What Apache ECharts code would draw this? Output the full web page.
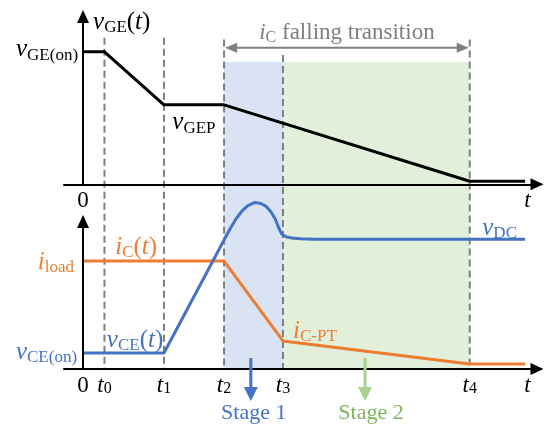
<!DOCTYPE html>
<html>
<head>
<meta charset="utf-8">
<script src="https://cdn.jsdelivr.net/npm/echarts@6/dist/echarts.min.js"></script>
<style>
  html, body { margin: 0; padding: 0; background: #ffffff; }
  #chart { width: 548px; height: 426px; }
</style>
</head>
<body>
<div id="chart"></div>
<script>
// Switching instants of the turn-off sequence (arbitrary time units)
const tInstants = [0.36, 1.36, 2.37, 3.36, 6.5];
const tickNames = ['0', '1', '2', '3', '4'];
const tAxisLabelPos = 7.47;

// Gate-emitter voltage vGE(t)
const vgeTime  = [0, 0.36, 1.36, 2.37, 6.5, 7.43];
const vgeValue = [15, 15, 9, 9, 0.35, 0.35];

// Collector-emitter voltage vCE(t), normalised
const vceTime  = [0, 1.36, 2.37, 2.47, 2.57, 2.67, 2.77, 2.89, 2.99, 3.08, 3.16, 3.23, 3.29, 3.34, 3.41, 3.51, 3.65, 3.90, 7.43];
const vceValue = [10.8, 10.8, 87.5, 94.9, 101.7, 107.1, 110.8, 112.9, 112.2, 110.2, 106.4, 101.7, 95.6, 91.5, 89.6, 88.8, 88.3, 88.0, 87.9];

// Collector current iC(t), normalised
const icTime  = [0, 2.37, 3.36, 6.5, 7.43];
const icValue = [73.2, 73.2, 19.0, 3.4, 3.4];

// Named levels on the vertical axes
const vgeOn = 15;
const vceOn = 10.8;
const iLoad = 73.2;

const SERIF = "'Liberation Serif','Times New Roman',serif";
const BLUE = '#4472C4';
const ORANGE = '#ED7D31';
const GRAY = '#7F7F7F';
const GREEN_ARROW = '#A9D18E';
const GREEN_TEXT = '#7DB55A';

const zip = (xs, ys) => xs.map((x, i) => [x, ys[i]]);

// rich-text styles for axis labels (ECharts text style keys)
function axisRich(color, big, small, shift) {
  return {
    v: { color, fontFamily: SERIF, fontSize: big, fontStyle: 'italic', lineHeight: 30 },
    s: { color, fontFamily: SERIF, fontSize: small, lineHeight: 30, padding: [shift, 0, 0, 0] },
    r: { color, fontFamily: SERIF, fontSize: big, lineHeight: 30 }
  };
}

const arrowLine = {
  show: true,
  onZero: true,
  symbol: ['none', 'triangle'],
  symbolSize: [12, 13],
  lineStyle: { color: '#000', width: 2 }
};

const xAxisCommon = {
  type: 'value', min: -0.32, max: 7.63, z: 5,
  axisLine: arrowLine,
  axisTick: { show: false },
  splitLine: { show: false }
};
const yAxisCommon = {
  type: 'value', min: 0, z: 5,
  axisLine: arrowLine,
  axisTick: { show: false },
  axisLabel: { show: false },
  splitLine: { show: false }
};

const option = {
  animation: false,
  backgroundColor: '#ffffff',
  grid: [
    { left: 64, right: 11, top: 16.5, height: 167.8, containLabel: false, outerBoundsMode: 'none' },
    { left: 64, right: 11, top: 221.5, height: 147.5, containLabel: false, outerBoundsMode: 'none' }
  ],
  xAxis: [
    Object.assign({}, xAxisCommon, {
      gridIndex: 0,
      axisLabel: {
        customValues: [0, tAxisLabelPos],
        margin: 2,
        formatter: (v) => v === 0 ? '{r|0}' : '{v|t}',
        rich: axisRich('#000', 23, 16, 6)
      }
    }),
    Object.assign({}, xAxisCommon, {
      gridIndex: 1,
      axisLabel: {
        customValues: [0].concat(tInstants, [tAxisLabelPos]),
        margin: 2,
        formatter: (v) => {
          if (v === 0) return '{r|0}';
          const k = tInstants.indexOf(v);
          return k >= 0 ? '{v|t}{s|' + tickNames[k] + '}' : '{v|t}';
        },
        rich: axisRich('#000', 23, 16, 6)
      }
    })
  ],
  yAxis: [
    Object.assign({}, yAxisCommon, { gridIndex: 0, max: 19 }),
    Object.assign({}, yAxisCommon, { gridIndex: 1, max: 100 })
  ],
  series: [
    {
      name: 'vGE', type: 'line', xAxisIndex: 0, yAxisIndex: 0,
      data: zip(vgeTime, vgeValue), showSymbol: false, clip: false, z: 3,
      lineStyle: { color: '#000', width: 3, join: 'round' }
    },
    {
      name: 'iC', type: 'line', xAxisIndex: 1, yAxisIndex: 1,
      data: zip(icTime, icValue), showSymbol: false, clip: false, z: 3,
      lineStyle: { color: ORANGE, width: 3, join: 'round' }
    },
    {
      name: 'vCE', type: 'line', xAxisIndex: 1, yAxisIndex: 1,
      data: zip(vceTime, vceValue), showSymbol: false, clip: false, z: 4,
      lineStyle: { color: BLUE, width: 3, join: 'round' }
    }
  ]
};

const chart = echarts.init(document.getElementById('chart'), null, { renderer: 'canvas' });
chart.setOption(option);

// ---- annotations placed from axis coordinates ----
const P = (g, t, v) => chart.convertToPixel({ gridIndex: g }, [t, v]);

// text styles for zrender rich text (graphic elements)
function gRich(color, big, small, shift) {
  return {
    v: { fill: color, fontFamily: SERIF, fontSize: big, fontStyle: 'italic', lineHeight: 30 },
    s: { fill: color, fontFamily: SERIF, fontSize: small, lineHeight: 30, padding: [shift, 0, 0, 0] },
    r: { fill: color, fontFamily: SERIF, fontSize: big, lineHeight: 30 }
  };
}
function label(x, y, text, rich, align) {
  return { type: 'text', x, y, z: 10, silent: true,
    style: { text, rich, align: align || 'left', verticalAlign: 'middle' } };
}

const [t0, t1, t2, t3, t4] = tInstants;
const axisBottomY = P(1, 0, 0)[1];
const shadeTop = P(0, 0, 13.85)[1];
const arrowY = P(0, 0, 15.45)[1];

const g = [];

// stage shading
const x2 = P(1, t2, 0)[0], x3 = P(1, t3, 0)[0], x4 = P(1, t4, 0)[0];
g.push({ type: 'rect', z: 0, silent: true, shape: { x: x2, y: shadeTop, width: x3 - x2, height: axisBottomY - shadeTop }, style: { fill: '#DAE3F3' } });
g.push({ type: 'rect', z: 0, silent: true, shape: { x: x3, y: shadeTop, width: x4 - x3, height: axisBottomY - shadeTop }, style: { fill: '#E2EFDA' } });

// dashed guides at each switching instant
const dashTops = [16.6, 16.6, 16.4, 14.65, 16.4];
tInstants.forEach((t, i) => {
  const x = P(1, t, 0)[0];
  const yTop = P(0, t, dashTops[i])[1];
  g.push({ type: 'line', z: 1, silent: true,
    shape: { x1: x, y1: yTop, x2: x, y2: axisBottomY },
    style: { stroke: GRAY, lineWidth: 2, lineDash: [7, 4] } });
});

// iC falling transition double arrow
g.push({ type: 'line', z: 2, silent: true, shape: { x1: x2 + 8, y1: arrowY, x2: x4 - 8, y2: arrowY }, style: { stroke: GRAY, lineWidth: 2 } });
g.push({ type: 'polygon', z: 2, silent: true, shape: { points: [[x2 + 1, arrowY], [x2 + 13, arrowY - 5], [x2 + 13, arrowY + 5]] }, style: { fill: GRAY } });
g.push({ type: 'polygon', z: 2, silent: true, shape: { points: [[x4 - 1, arrowY], [x4 - 13, arrowY - 5], [x4 - 13, arrowY + 5]] }, style: { fill: GRAY } });

// stage arrows
function stageArrow(t, color) {
  const x = P(1, t, 0)[0];
  g.push({ type: 'line', z: 6, silent: true, shape: { x1: x, y1: axisBottomY - 11, x2: x, y2: axisBottomY + 20 }, style: { stroke: color, lineWidth: 3 } });
  g.push({ type: 'polygon', z: 6, silent: true, shape: { points: [[x - 7, axisBottomY + 18], [x + 7, axisBottomY + 18], [x, axisBottomY + 32]] }, style: { fill: color } });
}
stageArrow(2.82, BLUE);
stageArrow(4.74, GREEN_ARROW);

// level labels beside the vertical axes
const pOn = P(0, 0, vgeOn);
g.push(label(pOn[0] - 5, pOn[1] - 2, '{v|v}{s|GE(on)}', gRich('#000', 25, 17, 11), 'right'));
const pLoad = P(1, 0, iLoad);
g.push(label(pLoad[0] - 9, pLoad[1] + 1, '{v|i}{s|load}', gRich(ORANGE, 25, 17, 11), 'right'));
const pCeOn = P(1, 0, vceOn);
g.push(label(pCeOn[0] - 6, pCeOn[1] - 1, '{v|v}{s|CE(on)}', gRich(BLUE, 25, 17, 11), 'right'));

// curve and axis names
const yTopAxisX = P(0, 0, 0)[0];
g.push(label(yTopAxisX + 10, P(0, 0, 19)[1] + 6, '{v|v}{s|GE}{r|(}{v|t}{r|)}', gRich('#000', 25, 17, 11)));
const pGEP = P(0, 1.5, 9);
g.push(label(pGEP[0], pGEP[1] + 18, '{v|v}{s|GEP}', gRich('#000', 25, 17, 11)));
g.push(label((x2 + x4) / 2, arrowY - 15, '{v|i}{s|C}{r| falling transition}', gRich(GRAY, 23, 16, 9), 'center'));

const pIc = P(1, 0.54, iLoad);
g.push(label(pIc[0], pIc[1] - 14, '{v|i}{s|C}{r|(}{v|t}{r|)}', gRich(ORANGE, 25, 17, 11)));
const pVce = P(1, 0.40, vceOn);
g.push(label(pVce[0], pVce[1] - 13, '{v|v}{s|CE}{r|(}{v|t}{r|)}', gRich(BLUE, 25, 17, 11)));
const pVdc = P(1, 6.71, vceValue[vceValue.length - 1]);
g.push(label(pVdc[0], pVdc[1] - 11, '{v|v}{s|DC}', gRich(BLUE, 25, 17, 11)));
const pPt = P(1, 3.53, icValue[2]);
g.push(label(pPt[0], pPt[1] - 10, '{v|i}{s|C-PT}', gRich(ORANGE, 25, 17, 11)));

g.push(label(P(1, 2.87, 0)[0], axisBottomY + 44, '{r|Stage 1}', gRich(BLUE, 22, 16, 0), 'center'));
g.push(label(P(1, 4.84, 0)[0], axisBottomY + 44, '{r|Stage 2}', gRich(GREEN_TEXT, 22, 16, 0), 'center'));

chart.setOption({ graphic: { elements: g } });
</script>
</body>
</html>
